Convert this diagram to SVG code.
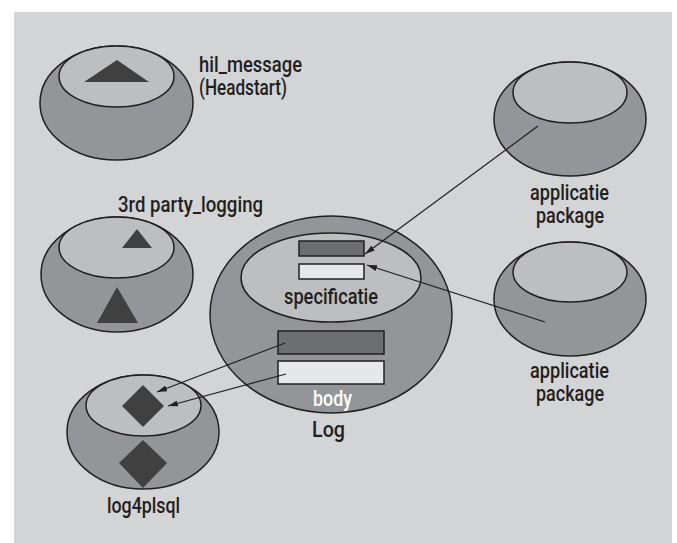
<svg xmlns="http://www.w3.org/2000/svg" width="677" height="543" viewBox="0 0 677 543">
  <style>
    .bg { fill: #d3d4d6; }
    .outer { fill: #939598; stroke: #231f20; stroke-width: 1.5; }
    .inner { fill: #bdbec0; stroke: #231f20; stroke-width: 1.5; }
    .shape { fill: #404041; }
    .rect-dark { fill: #6d6e70; stroke: #231f20; stroke-width: 1.5; }
    .rect-light { fill: #e6e7e8; stroke: #231f20; stroke-width: 1.5; }
    .label { font-family: Roboto, "Liberation Sans", Arial, sans-serif; font-weight: 500; font-size: 22px; fill: #231f20; }
    .label-white { font-family: Roboto, "Liberation Sans", Arial, sans-serif; font-weight: 500; font-size: 22px; fill: #ffffff; }
    .conn { stroke: #231f20; stroke-width: 1.2; fill: none; marker-end: url(#arrow); }
  </style>
  <defs>
    <marker id="arrow" viewBox="0 0 10 6" refX="10" refY="3" markerWidth="10" markerHeight="6" markerUnits="userSpaceOnUse" orient="auto">
      <path d="M0,0 L10,3 L0,6 Z" fill="#231f20"/>
    </marker>
  </defs>

  <rect class="bg" x="14" y="12" width="658" height="531"/>

  <!-- hil_message (Headstart) -->
  <g id="hil_message">
    <ellipse class="outer" cx="116.5" cy="103" rx="76.5" ry="57"/>
    <ellipse class="inner" cx="116.5" cy="76.5" rx="57.5" ry="30.5"/>
    <polygon class="shape" points="117,60 149,82 84,82"/>
    <text class="label" x="199" y="72" textLength="103" lengthAdjust="spacingAndGlyphs">hil_message</text>
    <text class="label" x="199" y="95" textLength="88" lengthAdjust="spacingAndGlyphs">(Headstart)</text>
  </g>

  <!-- 3rd party_logging -->
  <g id="third_party_logging">
    <text class="label" x="118" y="212" textLength="145" lengthAdjust="spacingAndGlyphs">3rd party_logging</text>
    <ellipse class="outer" cx="117" cy="274.5" rx="76" ry="57.5"/>
    <ellipse class="inner" cx="116.5" cy="247.5" rx="57.5" ry="30.5"/>
    <polygon class="shape" points="137,229 152,248 122,248"/>
    <polygon class="shape" points="117,287 138,323 97,323"/>
  </g>

  <!-- Log package: specificatie + body -->
  <g id="log">
    <ellipse class="outer" cx="331" cy="314.5" rx="121" ry="98.5"/>
    <ellipse class="inner" cx="331" cy="277.5" rx="90" ry="44.5"/>
    <rect class="rect-dark" x="299" y="241" width="65" height="15"/>
    <rect class="rect-light" x="299" y="264" width="65" height="15"/>
    <text class="label" x="284" y="304" textLength="94" lengthAdjust="spacingAndGlyphs">specificatie</text>
    <rect class="rect-dark" x="278" y="331" width="106" height="23"/>
    <rect class="rect-light" x="278" y="361" width="106" height="23"/>
    <text class="label-white" x="313" y="406" textLength="39" lengthAdjust="spacingAndGlyphs">body</text>
    <text class="label" x="312" y="437" textLength="33" lengthAdjust="spacingAndGlyphs">Log</text>
  </g>

  <!-- applicatie package (top) -->
  <g id="app_package_1">
    <ellipse class="outer" cx="570" cy="119" rx="76" ry="57"/>
    <ellipse class="inner" cx="570" cy="92.5" rx="57" ry="30.5"/>
    <text class="label" x="530" y="200" textLength="79" lengthAdjust="spacingAndGlyphs">applicatie</text>
    <text class="label" x="536" y="223" textLength="68" lengthAdjust="spacingAndGlyphs">package</text>
  </g>

  <!-- applicatie package (bottom) -->
  <g id="app_package_2">
    <ellipse class="outer" cx="570" cy="299" rx="76" ry="57"/>
    <ellipse class="inner" cx="570" cy="272" rx="57" ry="30"/>
    <text class="label" x="530" y="378" textLength="79" lengthAdjust="spacingAndGlyphs">applicatie</text>
    <text class="label" x="536" y="401" textLength="68" lengthAdjust="spacingAndGlyphs">package</text>
  </g>

  <!-- log4plsql -->
  <g id="log4plsql">
    <ellipse class="outer" cx="143" cy="432" rx="76" ry="57"/>
    <ellipse class="inner" cx="143.5" cy="405.5" rx="57.5" ry="30.5"/>
    <polygon class="shape" points="143,385 164,406 143,427 122,406"/>
    <polygon class="shape" points="143,440 167,463 143,488 119,463"/>
    <text class="label" x="107" y="513" textLength="73" lengthAdjust="spacingAndGlyphs">log4plsql</text>
  </g>

  <!-- connectors -->
  <g id="connectors">
    <line class="conn" x1="538" y1="126" x2="365" y2="254"/>
    <line class="conn" x1="545" y1="322" x2="367" y2="265"/>
    <line class="conn" x1="285" y1="343" x2="157" y2="392"/>
    <line class="conn" x1="286" y1="374" x2="168" y2="406"/>
  </g>
</svg>
